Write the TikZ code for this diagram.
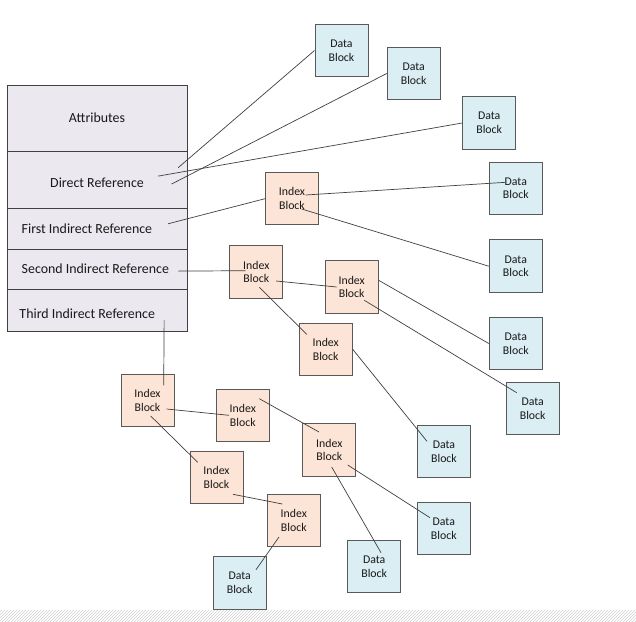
\documentclass[tikz,border=0pt]{standalone}
\usepackage{fontspec}
\setmainfont{Carlito}
\usetikzlibrary{calc,patterns}
\definecolor{tablefill}{HTML}{EBE8F0}
\definecolor{datafill}{HTML}{DAEEF3}
\definecolor{indexfill}{HTML}{FCE4D6}
\definecolor{edgegray}{HTML}{404040}
\definecolor{boxline}{HTML}{595959}
\begin{document}
\begin{tikzpicture}[x=1pt,y=-1pt,
 row/.style={draw=edgegray, fill=tablefill, line width=0.9pt, minimum width=180pt, inner sep=0pt, anchor=north west},
 rowtext/.style={font=\fontsize{13.9}{15}\selectfont, inner sep=0pt, text=black!90},
 datablk/.style={draw=boxline, fill=datafill, line width=1pt, minimum width=53pt, minimum height=52.5pt, inner sep=0pt, align=center, font=\fontsize{11.8}{13.8}\selectfont, text=black!90},
 idxblk/.style={datablk, fill=indexfill},
 conn/.style={draw=edgegray, line width=0.7pt}]
\useasboundingbox (0,0) rectangle (636,621);
\fill[white] (0,0) rectangle (636,621);
\path[pattern=north east lines, pattern color=gray!35] (0,610) rectangle (636,621);

% table
\node[row, minimum height=65.5pt] (attr) at (7,85) {};
\node[row, minimum height=57.5pt] (dir) at (7,150.5) {};
\node[row, minimum height=41.3pt] (first) at (7,208) {};
\node[row, minimum height=39.7pt] (second) at (7,249.3) {};
\node[row, minimum height=41.7pt] (third) at (7,289) {};
\node[rowtext] (tattr) at (97,117.5) {Attributes};
\node[rowtext] (tdir) at (97,183) {Direct Reference};
\node[rowtext, anchor=west] (tfirst) at (21.5,229) {First Indirect Reference};
\node[rowtext, anchor=west] (tsecond) at (21.5,269) {Second Indirect Reference};
\node[rowtext, anchor=west] (tthird) at (19.3,314) {Third Indirect Reference};

% data blocks
\node[datablk] (d1) at (341.5,50.5) {Data\\Block};
\node[datablk] (d2) at (413.7,73.5) {Data\\Block};
\node[datablk] (d3) at (489.2,123) {Data\\Block};
\node[datablk] (d4) at (515.8,188.3) {Data\\Block};
\node[datablk] (d5) at (515.8,266.2) {Data\\Block};
\node[datablk] (d6) at (515.8,343.5) {Data\\Block};
\node[datablk] (d7) at (532.7,408.7) {Data\\Block};
\node[datablk] (d8) at (444,451.5) {Data\\Block};
\node[datablk] (d9) at (239.7,583) {Data\\Block};
\node[datablk] (d10) at (374.2,566.5) {Data\\Block};
\node[datablk] (d11) at (443.8,528.7) {Data\\Block};

% index blocks
\node[idxblk] (i1) at (292,198.7) {Index\\Block};
\node[idxblk] (i2) at (256.3,272) {Index\\Block};
\node[idxblk] (i3) at (351.7,287) {Index\\Block};
\node[idxblk] (i4) at (325.7,349.3) {Index\\Block};
\node[idxblk] (i5) at (147.5,400.5) {Index\\Block};
\node[idxblk] (i6) at (242.8,415.3) {Index\\Block};
\node[idxblk] (i7) at (329.3,450) {Index\\Block};
\node[idxblk] (i8) at (216.5,477.7) {Index\\Block};
\node[idxblk] (i9) at (293.8,520.5) {Index\\Block};

% connectors
\draw[conn] ($(dir.center)+(80.7,-12)$) -- (d1.west);
\draw[conn] ($(dir.center)+(74,4.4)$) -- (d2.west);
\draw[conn] ($(dir.center)+(60.7,-3.6)$) -- (d3.west);
\draw[conn] ($(first.center)+(70.7,-5.35)$) -- (i1.west);
\draw[conn] ($(i1.center)+(13.7,-3.7)$) -- ($(d4.center)+(-10.1,-6)$);
\draw[conn] ($(i1.center)+(9.7,10.3)$) -- (d5.west);
\draw[conn] ($(second.center)+(80.7,1.5)$) -- ($(i2.center)+(-10.6,-1.3)$);
\draw[conn] ($(i2.center)+(19.7,9)$) -- ($(i3.center)+(-15,0)$);
\draw[conn] ($(i2.center)+(3,15.3)$) -- ($(i4.center)+(-19,-15)$);
\draw[conn] ($(i3.east)+(0,-6.7)$) -- (d6.west);
\draw[conn] ($(i3.center)+(12.6,13.3)$) -- ($(d7.center)+(-16,-16)$);
\draw[conn] (i4.east) -- ($(d8.center)+(-17,-10.2)$);
\draw[conn] ($(third.center)+(66.7,10.15)$) -- ($(i5.center)+(16.2,-15.2)$);
\draw[conn] ($(i5.center)+(19.2,8.5)$) -- ($(i6.center)+(-13.8,0)$);
\draw[conn] ($(i5.center)+(3.2,15.5)$) -- ($(i8.center)+(-18.8,-15.4)$);
\draw[conn] ($(i6.center)+(16.5,-16.6)$) -- ($(i7.center)+(-10.3,-18)$);
\draw[conn] ($(i8.center)+(16.5,16.6)$) -- ($(i9.center)+(-11.5,-16.5)$);
\draw[conn] ($(i9.center)+(-14.8,16.5)$) -- ($(d9.center)+(16.3,-13.3)$);
\draw[conn] ($(i7.center)+(2.4,17)$) -- ($(d10.center)+(6.8,-13.8)$);
\draw[conn] ($(i7.center)+(18.4,15)$) -- ($(d11.center)+(-13.8,-11)$);
\end{tikzpicture}
\end{document}
